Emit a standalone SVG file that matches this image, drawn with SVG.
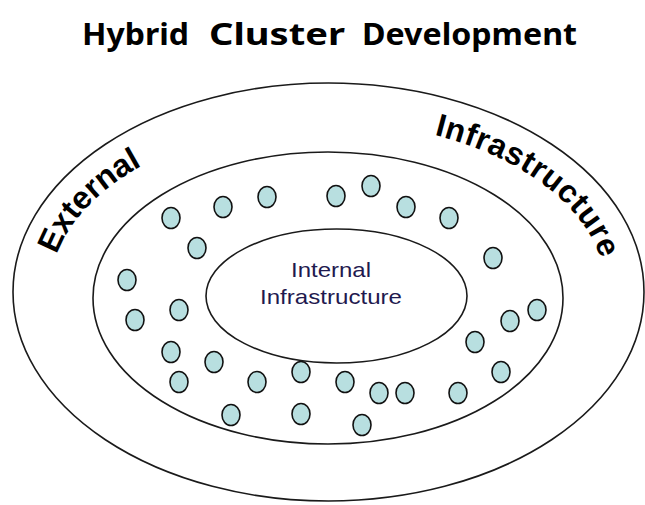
<svg xmlns="http://www.w3.org/2000/svg" xmlns:xlink="http://www.w3.org/1999/xlink" width="645" height="505" viewBox="0 0 645 505">
  <style>
    .ring { fill: none; stroke: #1a1a1a; stroke-width: 1.6; }
    .core { fill: #ffffff; stroke: #1a1a1a; stroke-width: 1.6; }
    .node { fill: #b8dfe0; stroke: #111111; stroke-width: 1.6; }
    .title { font-family: "Noto Sans", "Open Sans", sans-serif; font-weight: bold; font-size: 30px; fill: #000000; }
    .arc-label { font-family: "Liberation Sans", Arial, sans-serif; font-weight: bold; font-size: 32px; fill: #000000; }
    .core-label { font-family: "Liberation Sans", Arial, sans-serif; font-size: 21px; fill: #1f1a4f; text-anchor: middle; }
  </style>
  <defs>
    <!-- baseline for the curved zone labels, concentric with the outer ring -->
    <path id="zoneArc" d="M 50 292 A 278 170 0 0 1 606 292" fill="none"/>
  </defs>

  <rect width="645" height="505" fill="#ffffff"/>

  <g id="title">
    <text class="title" y="45">
      <tspan x="82" textLength="107" lengthAdjust="spacingAndGlyphs">Hybrid</tspan>
      <tspan x="209" textLength="136" lengthAdjust="spacingAndGlyphs">Cluster</tspan>
      <tspan x="362" textLength="215" lengthAdjust="spacingAndGlyphs">Development</tspan>
    </text>
  </g>

  <g id="external-infrastructure">
    <ellipse class="ring" cx="328.5" cy="292" rx="315.5" ry="209"/>
    <text class="arc-label"><textPath xlink:href="#zoneArc" href="#zoneArc" startOffset="38" textLength="126" lengthAdjust="spacing">External</textPath></text>
    <text class="arc-label"><textPath xlink:href="#zoneArc" href="#zoneArc" startOffset="464" textLength="216" lengthAdjust="spacing">Infrastructure</textPath></text>
  </g>

  <g id="cluster-zone">
    <ellipse class="ring" cx="328" cy="298" rx="235" ry="146"/>
  </g>

  <g id="internal-infrastructure">
    <ellipse class="core" cx="336.5" cy="296" rx="130.5" ry="67"/>
    <text class="core-label" x="331" y="277" textLength="80" lengthAdjust="spacingAndGlyphs">Internal</text>
    <text class="core-label" x="331" y="304" textLength="142" lengthAdjust="spacingAndGlyphs">Infrastructure</text>
  </g>

  <g id="cluster-nodes">
    <ellipse id="n1" class="node" cx="171" cy="218" rx="9" ry="10.5"/>
    <ellipse id="n2" class="node" cx="223" cy="207" rx="9" ry="10.5"/>
    <ellipse id="n3" class="node" cx="267" cy="197" rx="9" ry="10.5"/>
    <ellipse id="n4" class="node" cx="336" cy="196" rx="9" ry="10.5"/>
    <ellipse id="n5" class="node" cx="371" cy="186" rx="9" ry="10.5"/>
    <ellipse id="n6" class="node" cx="406" cy="207" rx="9" ry="10.5"/>
    <ellipse id="n7" class="node" cx="449" cy="218" rx="9" ry="10.5"/>
    <ellipse id="n8" class="node" cx="197" cy="248" rx="9" ry="10.5"/>
    <ellipse id="n9" class="node" cx="493" cy="258" rx="9" ry="10.5"/>
    <ellipse id="n10" class="node" cx="127" cy="280" rx="9" ry="10.5"/>
    <ellipse id="n11" class="node" cx="135" cy="320" rx="9" ry="10.5"/>
    <ellipse id="n12" class="node" cx="179" cy="310" rx="9" ry="10.5"/>
    <ellipse id="n13" class="node" cx="537" cy="310" rx="9" ry="10.5"/>
    <ellipse id="n14" class="node" cx="510" cy="321" rx="9" ry="10.5"/>
    <ellipse id="n15" class="node" cx="475" cy="342" rx="9" ry="10.5"/>
    <ellipse id="n16" class="node" cx="171" cy="352" rx="9" ry="10.5"/>
    <ellipse id="n17" class="node" cx="214" cy="362" rx="9" ry="10.5"/>
    <ellipse id="n18" class="node" cx="301" cy="372" rx="9" ry="10.5"/>
    <ellipse id="n19" class="node" cx="501" cy="372" rx="9" ry="10.5"/>
    <ellipse id="n20" class="node" cx="179" cy="382" rx="9" ry="10.5"/>
    <ellipse id="n21" class="node" cx="257" cy="382" rx="9" ry="10.5"/>
    <ellipse id="n22" class="node" cx="345" cy="382" rx="9" ry="10.5"/>
    <ellipse id="n23" class="node" cx="379" cy="393" rx="9" ry="10.5"/>
    <ellipse id="n24" class="node" cx="405" cy="393" rx="9" ry="10.5"/>
    <ellipse id="n25" class="node" cx="458" cy="393" rx="9" ry="10.5"/>
    <ellipse id="n26" class="node" cx="231" cy="415" rx="9" ry="10.5"/>
    <ellipse id="n27" class="node" cx="301" cy="414" rx="9" ry="10.5"/>
    <ellipse id="n28" class="node" cx="362" cy="425" rx="9" ry="10.5"/>
  </g>

  <g id="connectors"></g>
</svg>
